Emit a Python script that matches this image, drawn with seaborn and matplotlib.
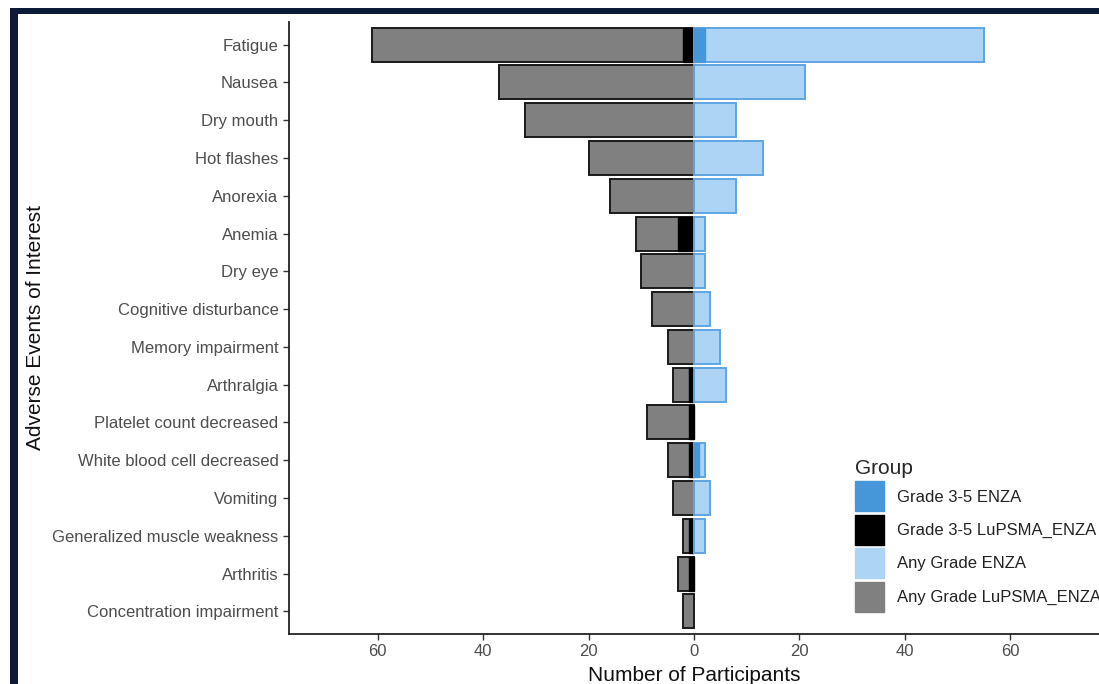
import matplotlib
matplotlib.use("Agg")
import matplotlib.pyplot as plt
from matplotlib.patches import Patch, Rectangle
import pandas as pd
import seaborn as sns

# Adverse events, top to bottom
events = [
    "Fatigue", "Nausea", "Dry mouth", "Hot flashes", "Anorexia", "Anemia",
    "Dry eye", "Cognitive disturbance", "Memory impairment", "Arthralgia",
    "Platelet count decreased", "White blood cell decreased", "Vomiting",
    "Generalized muscle weakness", "Arthritis", "Concentration impairment",
]
any_lupsma_enza = [61, 37, 32, 20, 16, 11, 10, 8, 5, 4, 9, 5, 4, 2, 3, 2]
g35_lupsma_enza = [2, 0, 0, 0, 0, 3, 0, 0, 0, 1, 1, 1, 0, 1, 1, 0]
any_enza = [55, 21, 8, 13, 8, 2, 2, 3, 5, 6, 0, 2, 3, 2, 0, 0]
g35_enza = [2, 0, 0, 0, 0, 0, 0, 0, 0, 0, 0, 1, 0, 0, 0, 0]

groups = ["Grade 3-5 ENZA", "Grade 3-5 LuPSMA_ENZA", "Any Grade ENZA", "Any Grade LuPSMA_ENZA"]
x_ticks = [-60, -40, -20, 0, 20, 40, 60]

sns.set_theme(style="ticks")
plt.rcParams["font.family"] = ["Liberation Sans", "DejaVu Sans"]

fig = plt.figure(figsize=(10.99, 6.84), dpi=100)
fig.patch.set_facecolor("white")

# dark frame along the left and top
navy = "#0b1b38"
fig.add_artist(Rectangle((10 / 1099, 0), 8 / 1099, 1 - 8 / 684, transform=fig.transFigure,
                         facecolor=navy, edgecolor="none", zorder=0))
fig.add_artist(Rectangle((10 / 1099, 1 - 14 / 684), 1, 6 / 684, transform=fig.transFigure,
                         facecolor=navy, edgecolor="none", zorder=0))

ax = fig.add_axes([289 / 1099, 1 - 634 / 684, (1099 - 289) / 1099, (634 - 22) / 684])

df = pd.DataFrame({
    "event": events,
    "any_lu": [-v for v in any_lupsma_enza],
    "g35_lu": [-v for v in g35_lupsma_enza],
    "any_enza": any_enza,
    "g35_enza": g35_enza,
})

layers = [
    ("any_lu", "#808080", "#1a1a1a", 1.4),
    ("g35_lu", "#000000", "#000000", 1.0),
    ("any_enza", "#ADD3F5", "#5FA4E2", 1.4),
    ("g35_enza", "#4696DA", "#4696DA", 1.0),
]
for col, fc, ec, lw in layers:
    sns.barplot(data=df, y="event", x=col, order=events, orient="h", color=fc,
                edgecolor=ec, linewidth=lw, width=0.9, saturation=1, ax=ax)

# empty counts leave no outline at zero
for bar in ax.patches:
    if bar.get_width() == 0:
        bar.set_visible(False)

ax.set_xlim(-76.8, 76.8)
ax.set_ylim(len(events) - 0.4, -0.6)
ax.set_xticks(x_ticks)
ax.set_xticklabels([str(abs(t)) for t in x_ticks])
ax.tick_params(axis="both", colors="#333333", labelcolor="#4d4d4d", labelsize=12,
               length=4, width=1)
ax.set_xlabel("Number of Participants", fontsize=15, color="#111111", labelpad=5)
ax.set_ylabel("Adverse Events of Interest", fontsize=15, color="#111111", labelpad=5)
for side in ["top", "right"]:
    ax.spines[side].set_visible(False)
for side in ["left", "bottom"]:
    ax.spines[side].set_color("#222222")
    ax.spines[side].set_linewidth(1.3)

handles = [
    Patch(facecolor="#4696DA", edgecolor="#4696DA"),
    Patch(facecolor="#000000", edgecolor="#000000"),
    Patch(facecolor="#ADD3F5", edgecolor="#ADD3F5"),
    Patch(facecolor="#808080", edgecolor="#808080"),
]
leg = ax.legend(handles, groups, title="Group", loc="upper left",
                bbox_to_anchor=(855 / 1099, 1 - 459 / 684), bbox_transform=fig.transFigure,
                frameon=False, fontsize=12, title_fontsize=15, borderpad=0,
                borderaxespad=0, handlelength=1.75, handleheight=2.4,
                labelspacing=0.2, handletextpad=0.75, alignment="left")
for t in leg.get_texts():
    t.set_color("#222222")

fig.savefig("out.png", dpi=100, facecolor="white")
